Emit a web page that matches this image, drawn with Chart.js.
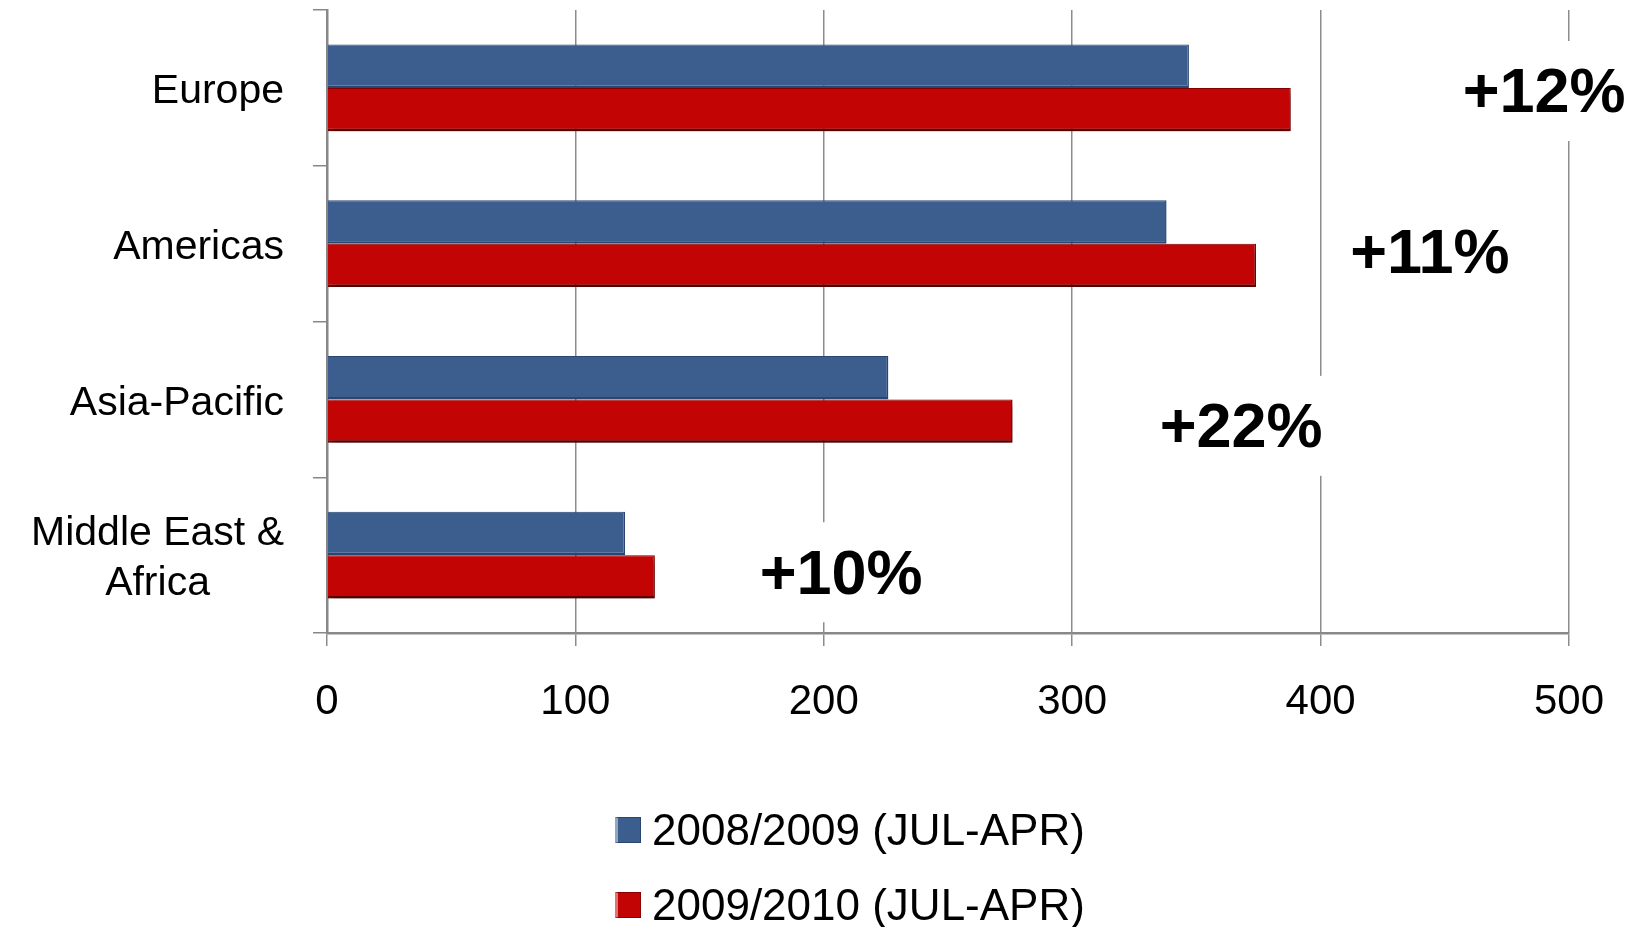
<!DOCTYPE html>
<html>
<head>
<meta charset="utf-8">
<script src="https://cdn.jsdelivr.net/npm/chart.js@4.4.1/dist/chart.umd.min.js"></script>
<style>
  html, body { margin: 0; padding: 0; background: #fff; }
  #wrap { position: relative; width: 1635px; height: 927px; }
  #legend { position: absolute; left: 615px; top: 792px; font-family: "Liberation Sans", Arial, sans-serif; font-size: 44px; color: #000; }
  .row { display: flex; align-items: center; height: 75px; }
  .box { width: 26px; height: 26px; margin-right: 11px; box-sizing: border-box; }
</style>
</head>
<body>
<div id="wrap">
  <canvas id="chart" width="1635" height="927"></canvas>
  <div id="legend"></div>
</div>
<script>
const categories = ['Europe', 'Americas', 'Asia-Pacific', ['Middle East &', 'Africa']];
const series2008 = [347, 338, 226, 120];
const series2009 = [388, 374, 276, 132];
const seriesNames = ['2008/2009 (JUL-APR)', '2009/2010 (JUL-APR)'];
const xTicks = [0, 100, 200, 300, 400, 500];
const growthLabels = ['+12%', '+11%', '+22%', '+10%'];

const blue = '#3B5E8F', blueEdge = '#2A4670';
const red = '#C30404', redEdge = '#8A0000';
const font = '"Liberation Sans", Arial, sans-serif';

// soft shadow under the red bars only
const barShadow = {
  id: 'barShadow',
  beforeDatasetDraw(chart, args) {
    if (args.index !== 1) return;
    const c = chart.ctx;
    c.save();
    c.shadowColor = 'rgba(0,0,0,0.45)';
    c.shadowBlur = 8;
    c.shadowOffsetX = 2;
    c.shadowOffsetY = 5;
  },
  afterDatasetDraw(chart, args) {
    if (args.index === 1) chart.ctx.restore();
  }
};

// category labels: right-aligned block, lines centred inside it
const catLabels = {
  id: 'catLabels',
  afterDraw(chart) {
    const c = chart.ctx, y = chart.scales.y;
    const xr = y.right - 43, lh = 50;
    c.save();
    c.font = '41px ' + font;
    c.fillStyle = '#000';
    c.textAlign = 'center';
    c.textBaseline = 'middle';
    chart.data.labels.forEach((lab, i) => {
      const lines = Array.isArray(lab) ? lab : [lab];
      const w = Math.max(...lines.map(l => c.measureText(l).width));
      const cy = y.getPixelForValue(i) + 4;
      lines.forEach((l, k) => {
        c.fillText(l, xr - w / 2, cy + (k - (lines.length - 1) / 2) * lh);
      });
    });
    c.restore();
  }
};

// growth labels on white boxes
const growth = {
  id: 'growth',
  afterDatasetsDraw(chart, args, opts) {
    const c = chart.ctx, sx = chart.scales.x, sy = chart.scales.y;
    c.save();
    c.font = 'bold 63px ' + font;
    c.textAlign = 'center';
    c.textBaseline = 'middle';
    opts.labels.forEach((t, i) => {
      const x = sx.getPixelForValue(opts.at[i]);
      const y = sy.getPixelForValue(i + opts.shift[i]);
      const w = c.measureText(t).width;
      c.fillStyle = '#fff';
      c.fillRect(x - w / 2 - 10, y - 50, w + 20, 100);
      c.fillStyle = '#000';
      c.fillText(t, x, y + 4);
    });
    c.restore();
  }
};

const chart = new Chart(document.getElementById('chart'), {
  type: 'bar',
  data: {
    labels: categories,
    datasets: [
      { label: seriesNames[0], data: series2008, backgroundColor: blue, borderColor: blueEdge,
        borderWidth: { top: 1, right: 1.5, bottom: 2.5, left: 0 } },
      { label: seriesNames[1], data: series2009, backgroundColor: red, borderColor: redEdge,
        borderWidth: { top: 1, right: 1.5, bottom: 2.5, left: 0 } }
    ]
  },
  options: {
    indexAxis: 'y',
    responsive: false,
    animation: false,
    devicePixelRatio: 1,
    layout: { padding: { top: 10, right: 66, bottom: 184, left: 0 } },
    datasets: { bar: { categoryPercentage: 0.557, barPercentage: 1.0 } },
    scales: {
      x: {
        min: 0, max: 500,
        afterBuildTicks: s => { s.ticks = xTicks.map(v => ({ value: v })); },
        afterFit: s => { s.height = 110; },
        ticks: { color: '#000', padding: 31, font: { family: font, size: 42 } },
        grid: { color: '#8c8c8c', lineWidth: 1.5, tickLength: 13 },
        border: { color: '#888', width: 2.5 }
      },
      y: {
        afterFit: s => { s.width = 327; },
        ticks: { display: false },
        grid: { drawOnChartArea: false, color: '#888', lineWidth: 1.5, tickLength: 14 },
        border: { color: '#888', width: 2.5 }
      }
    },
    plugins: {
      legend: { display: false },
      tooltip: { enabled: false },
      growth: {
        labels: growthLabels,
        at: [490, 444, 368, 207],
        shift: [0.02, 0.05, 0.17, 0.11]
      }
    }
  },
  plugins: [barShadow, catLabels, growth]
});

// two-row legend below the chart
const legend = document.getElementById('legend');
chart.data.datasets.forEach(ds => {
  const row = document.createElement('div');
  row.className = 'row';
  const box = document.createElement('span');
  box.className = 'box';
  box.style.background = ds.backgroundColor;
  box.style.border = '1px solid ' + ds.borderColor;
  box.style.borderLeft = '3px solid rgba(255,255,255,0.45)';
  const txt = document.createElement('span');
  txt.textContent = ds.label;
  row.appendChild(box);
  row.appendChild(txt);
  legend.appendChild(row);
});
</script>
</body>
</html>
